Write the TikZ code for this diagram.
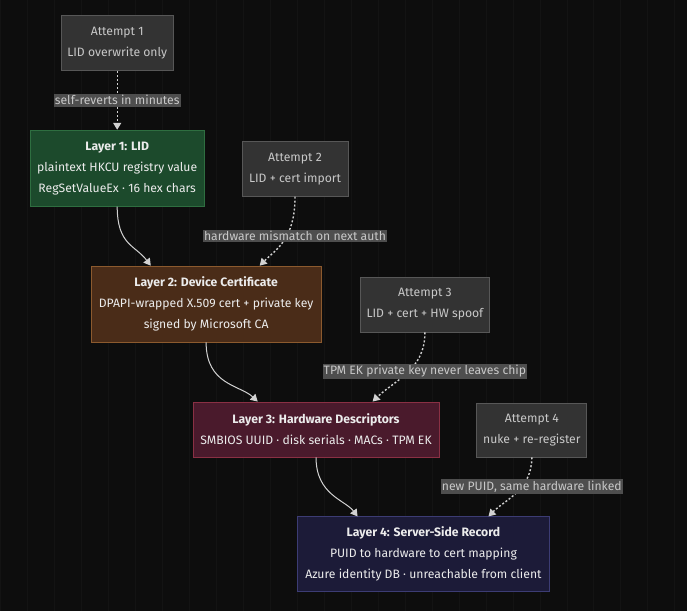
\documentclass[tikz,border=0pt]{standalone}
\usepackage{fontspec}
\setmainfont{Fira Sans}
\usepackage{tikz}
\usetikzlibrary{arrows.meta,positioning,calc}
\definecolor{bg}{HTML}{0D0D0D}
\definecolor{gridc}{HTML}{131313}
\definecolor{trybox}{HTML}{333333}
\definecolor{tryline}{HTML}{575757}
\definecolor{tag}{HTML}{4E4E4E}
\definecolor{ink}{HTML}{ECECEC}
\definecolor{dim}{HTML}{C8C8C8}
\definecolor{wire}{HTML}{D2D2D2}
\definecolor{lidfill}{HTML}{1C4A2C}
\definecolor{lidline}{HTML}{2E6E40}
\definecolor{certfill}{HTML}{4A2C18}
\definecolor{certline}{HTML}{8C5A2E}
\definecolor{hwfill}{HTML}{4A1A2C}
\definecolor{hwline}{HTML}{8A3044}
\definecolor{srvfill}{HTML}{1C1B38}
\definecolor{srvline}{HTML}{3C3C74}

\begin{document}
\begin{tikzpicture}[x=1pt, y=-1pt, every node/.style={font=\fontsize{12.2}{14}\selectfont, align=center, inner sep=0pt},
  layer/.style={draw, line width=0.8pt, text=ink, minimum height=76pt},
  attempt/.style={draw=tryline, fill=trybox, line width=0.8pt, text=dim, minimum height=55pt},
  tagbox/.style={fill=tag, text=dim, inner xsep=1pt, inner ysep=1.5pt},
  hold/.style={-{Triangle[length=7pt,width=8pt]}, wire, line width=1pt},
  fail/.style={-{Triangle[length=7pt,width=8pt]}, wire, line width=1.4pt, dash pattern=on 2pt off 2pt}]
\fill[bg] (0,0) rectangle (687,611);
\draw[gridc, line width=0.6pt, step=27] (0,0) grid (687,611);

% layers
\node[layer, fill=lidfill, draw=lidline, minimum width=174pt] (l1) at (117,168) {\textbf{Layer 1: LID}\\[7pt]plaintext HKCU registry value\\[7pt]RegSetValueEx · 16 hex chars};
\node[layer, fill=certfill, draw=certline, minimum width=230pt] (l2) at (206,304) {\textbf{Layer 2: Device Certificate}\\[7pt]DPAPI-wrapped X.509 cert + private key\\[7pt]signed by Microsoft CA};
\node[layer, fill=hwfill, draw=hwline, minimum width=246pt, minimum height=55pt] (l3) at (316,429.5) {\textbf{Layer 3: Hardware Descriptors}\\[7pt]SMBIOS UUID · disk serials · MACs · TPM EK};
\node[layer, fill=srvfill, draw=srvline, minimum width=253pt, minimum height=75pt] (l4) at (423.5,554.5) {\textbf{Layer 4: Server-Side Record}\\[7pt]PUID to hardware to cert mapping\\[7pt]Azure identity DB · unreachable from client};

% attempts
\node[attempt, minimum width=112pt] (a1) at (117,43) {Attempt 1\\[7pt]LID overwrite only};
\node[attempt, minimum width=106pt] (a2) at (295,168.5) {Attempt 2\\[7pt]LID + cert import};
\node[attempt, minimum width=130pt] (a3) at (425,304.5) {Attempt 3\\[7pt]LID + cert + HW spoof};
\node[attempt, minimum width=110pt, minimum height=54pt] (a4) at (532,430) {Attempt 4\\[7pt]nuke + re-register};

% where the wires land
\coordinate (l2a) at ([xshift=60]l2.north west);
\coordinate (l2b) at ([xshift=169]l2.north west);
\coordinate (l3a) at ([xshift=65]l3.north west);
\coordinate (l3b) at ([xshift=180]l3.north west);
\coordinate (l4a) at ([xshift=61]l4.north west);
\coordinate (l4b) at ([xshift=192]l4.north west);

\draw[hold] (l1.south) .. controls (117,245) and (135,245) .. (l2a);
\draw[hold] (l2.south) .. controls (206,385) and (240,385) .. (l3a);
\draw[hold] (l3.south) .. controls (316,495) and (345,500) .. (l4a);

\draw[fail] (a1.south) -- (l1.north);
\draw[fail] (a2.south) .. controls (295,240) and (275,250) .. (l2b);
\draw[fail] (a3.south) .. controls (425,370) and (395,380) .. (l3b);
\draw[fail] (a4.south) .. controls (532,490) and (505,500) .. (l4b);

% why each attempt fails
\node[tagbox] (t1) at (117,100) {self-reverts in minutes};
\node[tagbox] (t2) at (295,236) {hardware mismatch on next auth};
\node[tagbox] (t3) at (425,371.5) {TPM EK private key never leaves chip};
\node[tagbox] (t4) at (532,486.5) {new PUID, same hardware linked};
\end{tikzpicture}
\end{document}
